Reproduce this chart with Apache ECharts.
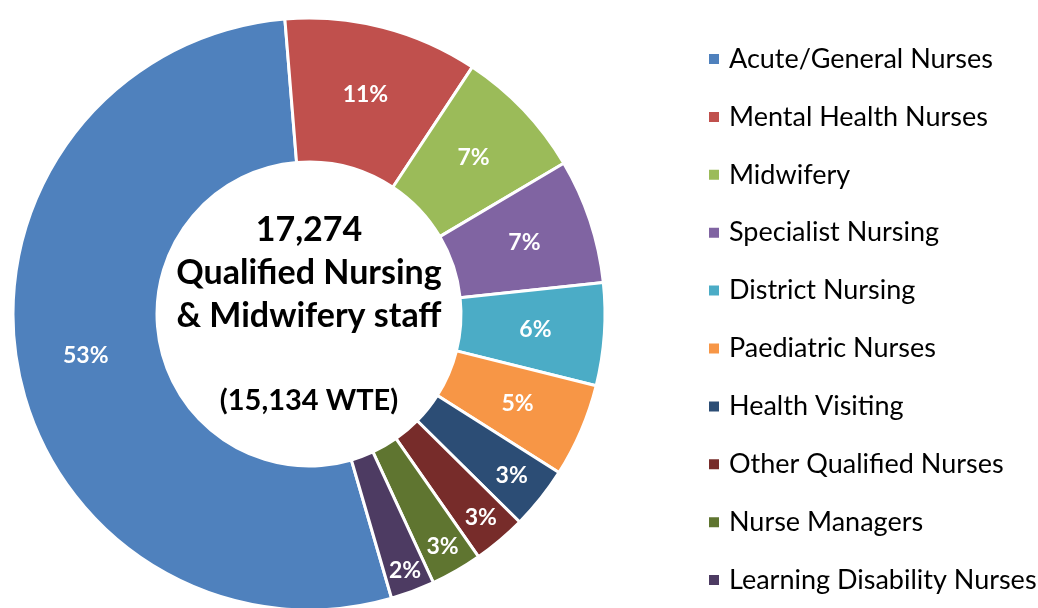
<!DOCTYPE html>
<html>
<head>
<meta charset="utf-8">
<script src="https://cdn.jsdelivr.net/npm/echarts@6/dist/echarts.min.js"></script>
<style>
  html, body { margin: 0; padding: 0; background: #fff; }
  #chart { width: 1038px; height: 608px; }
</style>
</head>
<body>
<div id="chart"></div>
<script>
// staff groups (legend order)
const categories = [
  'Acute/General Nurses',
  'Mental Health Nurses',
  'Midwifery',
  'Specialist Nursing',
  'District Nursing',
  'Paediatric Nurses',
  'Health Visiting',
  'Other Qualified Nurses',
  'Nurse Managers',
  'Learning Disability Nurses'
];
// share of staff, per cent
const shares = [53.2, 10.6, 7.2, 6.8, 5.6, 5.1, 3.4, 2.9, 2.8, 2.4];
const colors = ['#4F81BD', '#C0504D', '#9BBB59', '#8064A2', '#4BACC6',
  '#F79646', '#2C4D75', '#772C2A', '#5F7530', '#4D3B62'];

const totalHeadcount = '17,274';
const totalWte = '15,134';

const FONT = 'Lato';
const CX = 309, CY = 314;

// centre caption lines
const centreLines = [
  { text: totalHeadcount, y: 230, size: 34 },
  { text: 'Qualified Nursing', y: 273, size: 34 },
  { text: '& Midwifery staff', y: 316, size: 34 },
  { text: '(' + totalWte + ' WTE)', y: 401, size: 29 }
];

const chart = echarts.init(document.getElementById('chart'));

chart.setOption({
  backgroundColor: '#fff',
  animation: false,
  color: colors,
  legend: {
    orient: 'vertical',
    left: 707,
    top: 44,
    padding: 0,
    icon: 'rect',
    itemWidth: 12,
    itemHeight: 12,
    itemGap: 27.9,
    data: categories,
    textStyle: {
      fontFamily: FONT,
      fontSize: 27,
      color: '#000',
      lineHeight: 30,
      padding: [0, 0, 0, 4]
    }
  },
  graphic: centreLines.map(t => ({
    type: 'text',
    x: CX,
    y: t.y,
    style: {
      text: t.text,
      fill: '#000',
      fontFamily: FONT,
      fontWeight: 'bold',
      fontSize: t.size,
      textAlign: 'center',
      textVerticalAlign: 'middle'
    }
  })),
  series: [{
    type: 'pie',
    center: [CX, CY],
    radius: [152, 296],
    startAngle: 286.2,
    clockwise: true,
    avoidLabelOverlap: false,
    itemStyle: { borderColor: '#fff', borderWidth: 3 },
    label: {
      show: true,
      position: 'inside',
      color: '#fff',
      fontFamily: FONT,
      fontWeight: 'bold',
      fontSize: 23,
      formatter: p => Math.round(p.percent) + '%'
    },
    // thin slices: push the label outwards so it fits, like the original
    labelLayout: params => {
      const share = shares[params.dataIndex];
      if (share >= 4) return { hideOverlap: false };
      const r = params.labelRect;
      const lx = r.x + r.width / 2 - CX;
      const ly = r.y + r.height / 2 - CY;
      const d = Math.sqrt(lx * lx + ly * ly);
      const target = 250 + (4 - share) * 15;
      return {
        hideOverlap: false,
        x: CX + lx / d * target,
        y: CY + ly / d * target
      };
    },
    labelLine: { show: false },
    data: categories.map((name, i) => ({ name, value: shares[i] }))
  }]
});
</script>
</body>
</html>
